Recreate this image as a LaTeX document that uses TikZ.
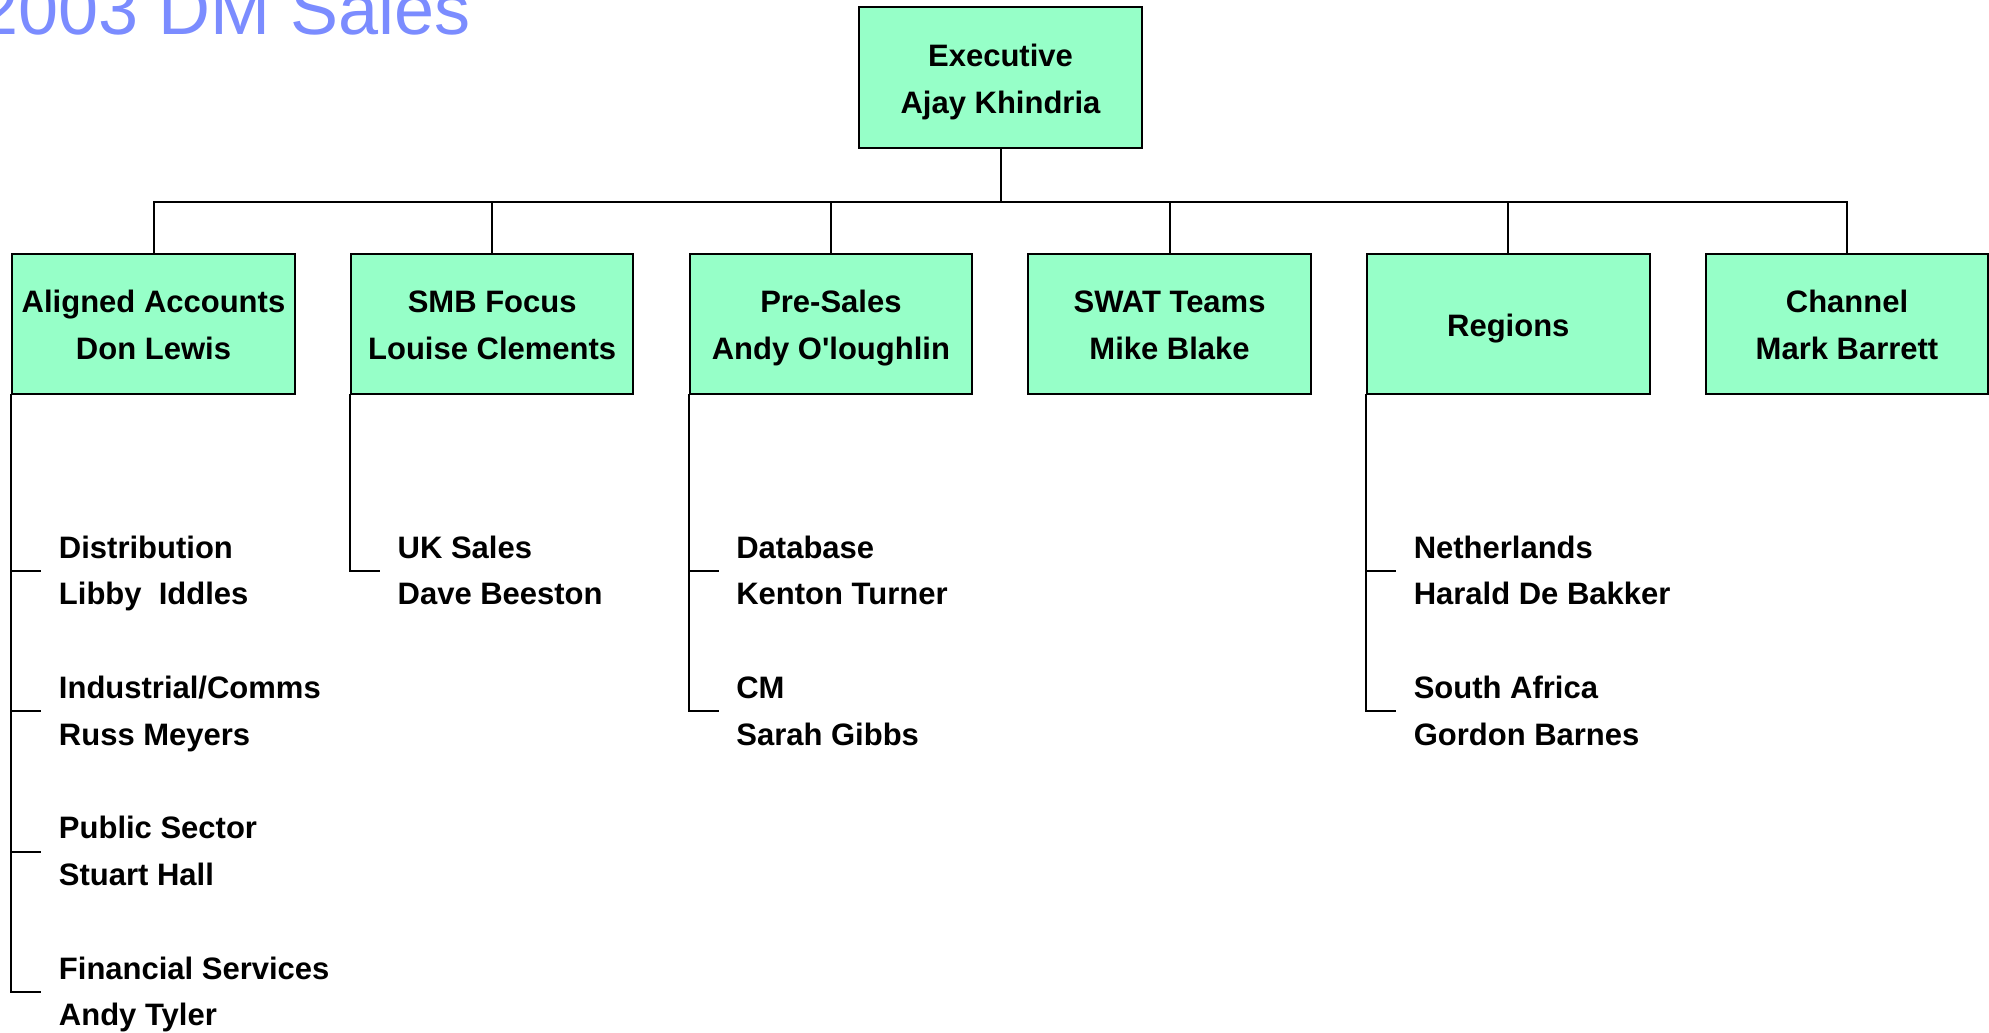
\documentclass[tikz,border=0pt]{standalone}
\usepackage{fontspec}
\setmainfont{Liberation Sans}
\usetikzlibrary{calc}
\definecolor{mint}{HTML}{96FFC8}
\definecolor{titleblue}{HTML}{7B8CFF}
% two-line label inside an org box, lowered slightly so it sits optically centred
\newcommand\unitlabel[1]{\raisebox{-3pt}[\height][\depth]{\begin{tabular}{@{}c@{}}#1\end{tabular}}}
% two-line entry hanging off a department line; baseline = first line
\newcommand\memberlabel[2]{\begin{tabular}[t]{@{}l@{}}#1\\#2\end{tabular}}

\begin{document}
\begin{tikzpicture}[x=1pt,y=-1pt,
  unit/.style={draw=black, line width=2pt, fill=mint, minimum width=282.5pt,
    minimum height=140pt, inner sep=0pt, align=center,
    font=\bfseries\fontsize{31}{46.7}\selectfont},
  link/.style={line width=2pt, line cap=rect},
  member/.style={anchor=base west, inner sep=0pt,
    font=\bfseries\fontsize{31}{46.7}\selectfont}
]
\useasboundingbox (0,0) rectangle (1989,1033);

% title
\node[anchor=base west, inner sep=0pt, text=titleblue,
      font=\fontsize{72}{80}\selectfont] (title) at (-22,34.3) {2003 DM Sales};

% top level
\node[unit, minimum height=140.5pt] (exec) at (1000.5,77.75) {\unitlabel{Executive\\Ajay Khindria}};

% departments
\node[unit] (aa)   at (153.5,324)  {\unitlabel{Aligned Accounts\\Don Lewis}};
\node[unit] (smb)  at (492.2,324)  {\unitlabel{SMB Focus\\Louise Clements}};
\node[unit] (pre)  at (830.9,324)  {\unitlabel{Pre-Sales\\Andy O\textquotesingle loughlin}};
\node[unit] (swat) at (1169.6,324) {\unitlabel{SWAT Teams\\Mike Blake}};
\node[unit] (reg)  at (1508.3,324) {\unitlabel{Regions}};
\node[unit] (chan) at (1847,324)   {\unitlabel{Channel\\Mark Barrett}};

% bus from the executive to the departments
\coordinate (bus) at ($(exec.south)+(0,53)$);
\draw[link] (exec.south) -- (bus);
\draw[link] (aa.north) -- (aa.north |- bus) -- (chan.north |- bus) -- (chan.north);
\foreach \d in {smb,pre,swat,reg}
  \draw[link] (\d.north) -- (\d.north |- bus);

% tick ends below each department
\coordinate (aa-1)  at ($(aa.south west)+(29,176)$);
\coordinate (aa-2)  at ($(aa.south west)+(29,316.4)$);
\coordinate (aa-3)  at ($(aa.south west)+(29,456.8)$);
\coordinate (aa-4)  at ($(aa.south west)+(29,597.2)$);
\coordinate (smb-1) at ($(smb.south west)+(29,176)$);
\coordinate (pre-1) at ($(pre.south west)+(29,176)$);
\coordinate (pre-2) at ($(pre.south west)+(29,316.4)$);
\coordinate (reg-1) at ($(reg.south west)+(29,176)$);
\coordinate (reg-2) at ($(reg.south west)+(29,316.4)$);

\foreach \t in {aa-1,aa-2,aa-3,aa-4}
  \draw[link] (aa.south west) |- (\t);
\draw[link] (smb.south west) |- (smb-1);
\foreach \t in {pre-1,pre-2}
  \draw[link] (pre.south west) |- (\t);
\foreach \t in {reg-1,reg-2}
  \draw[link] (reg.south west) |- (\t);

% entries
\node[member] (aa-1-t)  at ($(aa-1)+(18.5,-13)$)  {\memberlabel{Distribution}{Libby~~Iddles}};
\node[member] (aa-2-t)  at ($(aa-2)+(18.5,-13)$)  {\memberlabel{Industrial/Comms}{Russ Meyers}};
\node[member] (aa-3-t)  at ($(aa-3)+(18.5,-13)$)  {\memberlabel{Public Sector}{Stuart Hall}};
\node[member] (aa-4-t)  at ($(aa-4)+(18.5,-13)$)  {\memberlabel{Financial Services}{Andy Tyler}};
\node[member] (smb-1-t) at ($(smb-1)+(18.5,-13)$) {\memberlabel{UK Sales}{Dave Beeston}};
\node[member] (pre-1-t) at ($(pre-1)+(18.5,-13)$) {\memberlabel{Database}{Kenton Turner}};
\node[member] (pre-2-t) at ($(pre-2)+(18.5,-13)$) {\memberlabel{CM}{Sarah Gibbs}};
\node[member] (reg-1-t) at ($(reg-1)+(18.5,-13)$) {\memberlabel{Netherlands}{Harald De Bakker}};
\node[member] (reg-2-t) at ($(reg-2)+(18.5,-13)$) {\memberlabel{South Africa}{Gordon Barnes}};
\end{tikzpicture}
\end{document}
